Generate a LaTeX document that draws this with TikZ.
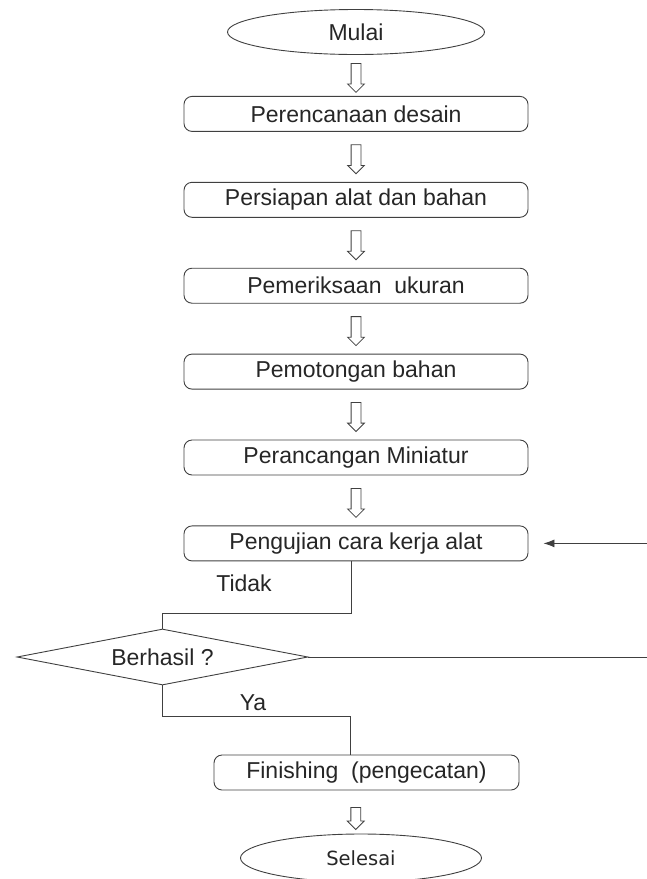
\documentclass[tikz,border=0pt]{standalone}
\usepackage{fontspec}
\setmainfont{Liberation Sans}
\newfontfamily\endfont{DejaVu Sans}
\usetikzlibrary{positioning,shapes.geometric,shapes.arrows,arrows.meta,calc}

\tikzset{
  line/.style={draw=black!75, line width=0.9pt},
  process/.style={line, rounded corners=8pt, minimum width=344pt, minimum height=35pt,
    inner sep=0pt, font=\fontsize{23}{27}\selectfont, text=black!85},
  terminal/.style={line, ellipse, inner sep=0pt, text=black!85},
  decision/.style={line, diamond, aspect=5.2, minimum width=291pt, minimum height=56pt,
    inner sep=0pt, font=\fontsize{23}{27}\selectfont, text=black!85},
  flowarrow/.style={draw=black!75, line width=0.8pt, single arrow, shape border rotate=270,
    inner sep=4.5pt, single arrow head extend=3.5pt, single arrow tip angle=90,
    minimum height=29pt},
  tag/.style={font=\fontsize{23}{27}\selectfont, text=black!85}
}

\begin{document}
\begin{tikzpicture}[x=1pt, y=-1pt]
  \useasboundingbox (0,0) rectangle (646,879);

  \node[terminal, minimum width=257pt, minimum height=45pt, font=\fontsize{23}{27}\selectfont] (start) at (356,32) {Mulai} ; %
  \node[process, below=41pt of start] (plan) {Perencanaan desain} ; %
  \node[process, below=50pt of plan] (prep) {Persiapan alat dan bahan} ; %
  \node[process, below=50pt of prep] (check) {Pemeriksaan\ \ ukuran} ; %
  \node[process, below=50pt of check] (cut) {Pemotongan bahan} ; %
  \node[process, below=50pt of cut] (build) {Perancangan Miniatur} ; %
  \node[process, below=50pt of build] (test) {Pengujian cara kerja alat} ; %

  \node[decision] (decide) at (162.5,657) {Berhasil ?} ; %
  \node[process, minimum width=305pt] (finish) at (366.5,772.5) {Finishing\ \ (pengecatan)} ; %
  \node[terminal, minimum width=241pt, minimum height=48pt, font=\endfont\fontsize{19.5}{23}\selectfont] (stop) at (361,858) {Selesai} ; %

  \node[tag] (tidak) at (244,583) {Tidak} ; %
  \node[tag] (ya) at (253,703) {Ya} ; %

  % hollow arrows between the steps
  \foreach \a/\b/\n in {start/plan/a1, plan/prep/a2, prep/check/a3, check/cut/a4, cut/build/a5, build/test/a6}
    \node[flowarrow] (\n) at ($(\a.south)!0.5!(\b.north)$) {};
  \node[flowarrow, minimum height=22pt] (a7) at ($(finish.south)!0.5!(stop.north)+(-8,4)$) {};

  \draw[line] ([xshift=-5pt]test.south) -- ++(0,52) -| (decide.north);
  \draw[line] (decide.south) -- ++(0,31) -| ([xshift=-16.5pt]finish.north);

  \coordinate (loopin) at ($(test.east)+(119,0)$);
  \coordinate (loopout) at ($(decide.east)+(339,0)$);
  \draw[line, -{Latex[length=11pt,width=8pt]}, shorten >=15pt] (loopin) -- (test.east);
  \draw[line] (decide.east) -- (loopout);
\end{tikzpicture}
\end{document}
